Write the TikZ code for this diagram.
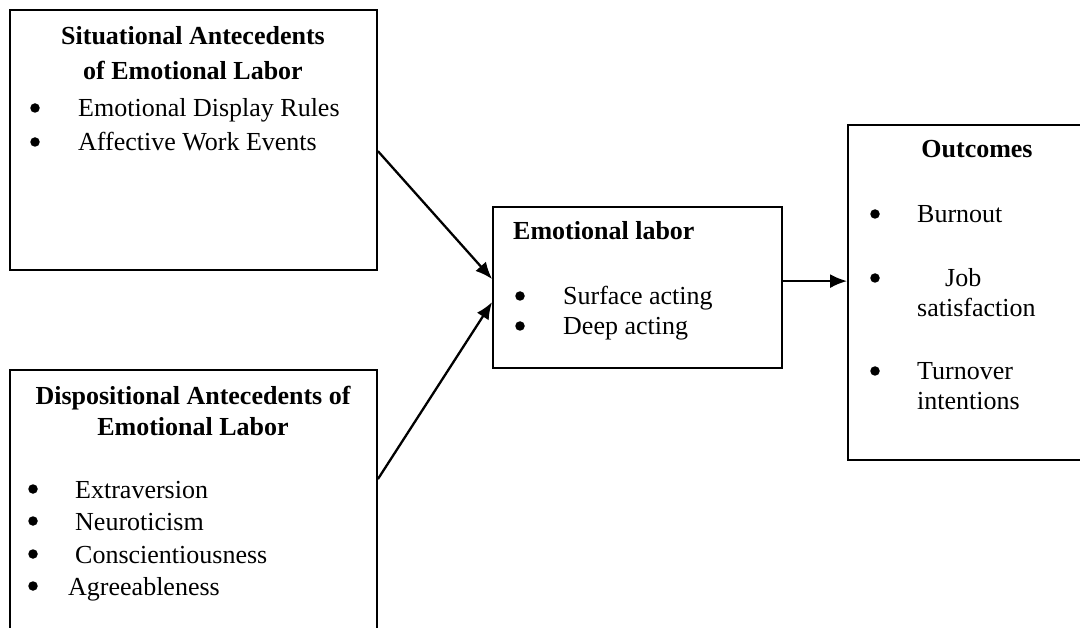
\documentclass[tikz,border=0pt]{standalone}
\usepackage{fontspec}
\setmainfont{Liberation Serif}
\usetikzlibrary{arrows.meta,fit}
\begin{document}
\begin{tikzpicture}[x=1pt, y=-1pt, >={Latex[length=17pt,width=14pt]},
    box/.style={draw, line width=1.8pt, inner sep=0pt},
    head/.style={font=\fontsize{26}{31}\selectfont\bfseries, anchor=base, inner sep=0pt},
    item/.style={font=\fontsize{26}{31}\selectfont, anchor=base west, inner sep=0pt},
    dot/.style={circle, fill, inner sep=0pt, minimum size=9.5pt},
    link/.style={->, line width=2.3pt}]
    \clip (0,0) rectangle (1080,628);

    % Four boxes (the last two run off the page)
    \node[box, fit={(10,10) (377,270)}] (sit) {};
    \node[box, fit={(10,370) (377,680)}] (disp) {};
    \node[box, fit={(493,207) (782,368)}] (emo) {};
    \node[box, fit={(848,125) (1100,460)}] (out) {};

    % Situational antecedents
    \node[head] (sitA) at (193,45) {Situational Antecedents};
    \node[head] (sitB) at (193,80) {of Emotional Labor};
    \node[dot] (sitD1) at (35,108) {};
    \node[item] (sit1) at (78,117) {Emotional Display Rules};
    \node[dot] (sitD2) at (35,142) {};
    \node[item] (sit2) at (78,151) {Affective Work Events};

    % Dispositional antecedents
    \node[head] (dispA) at (193,405) {Dispositional Antecedents of};
    \node[head] (dispB) at (193,436) {Emotional Labor};
    \node[dot] (dispD1) at (33,489) {};
    \node[item] (disp1) at (75,498) {Extraversion};
    \node[dot] (dispD2) at (33,521) {};
    \node[item] (disp2) at (75,530) {Neuroticism};
    \node[dot] (dispD3) at (33,554) {};
    \node[item] (disp3) at (75,563) {Conscientiousness};
    \node[dot] (dispD4) at (33,586) {};
    \node[item] (disp4) at (68,595) {Agreeableness};

    % Emotional labor
    \node[head, anchor=base west] (emoA) at (513,240) {Emotional labor};
    \node[dot] (emoD1) at (520,296) {};
    \node[item] (emo1) at (563,305) {Surface acting};
    \node[dot] (emoD2) at (520,326) {};
    \node[item] (emo2) at (563,335) {Deep acting};

    % Outcomes
    \node[head] (outA) at (977,158) {Outcomes};
    \node[dot] (outD1) at (875,214) {};
    \node[item] (out1) at (917,223) {Burnout};
    \node[dot] (outD2) at (875,278) {};
    \node[item] (out2a) at (945,287) {Job};
    \node[item] (out2b) at (917,317) {satisfaction};
    \node[dot] (outD3) at (875,371) {};
    \node[item] (out3a) at (917,380) {Turnover};
    \node[item] (out3b) at (917,410) {intentions};

    % Arrows
    \draw[link] ([yshift=-142pt]sit.north east) -- ([yshift=-73pt]emo.north west);
    \draw[link] ([yshift=-110pt]disp.north east) -- ([yshift=-96pt]emo.north west);
    \draw[link] ([yshift=-75pt]emo.north east) -- ([yshift=-75pt]emo.north east -| out.west);
\end{tikzpicture}
\end{document}
